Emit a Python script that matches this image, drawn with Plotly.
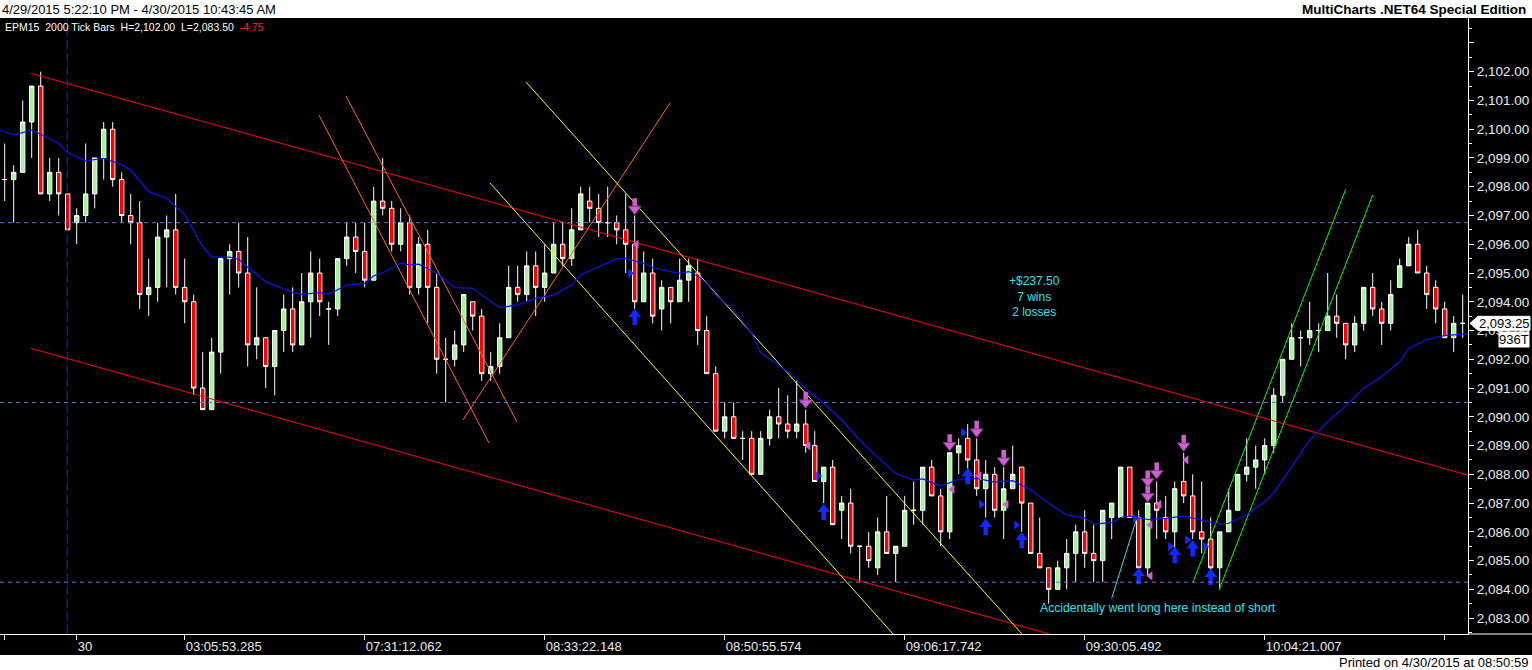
import plotly.graph_objects as go
import numpy as np

# ---------------- data ----------------
opens = [2098.25,2098.25,2098.5,2100.25,2101.5,2097.75,2098.5,2097.75,2096.75,2097.0,
         2097.75,2099.0,2100.0,2098.25,2097.0,2096.75,2094.25,2094.5,2096.25,2096.5,
         2094.5,2094.0,2091.0,2090.25,2092.25,2095.5,2095.75,2095.0,2092.5,2092.75,
         2091.75,2093.0,2093.75,2092.5,2094.0,2095.0,2093.75,2093.75,2095.5,2096.25,
         2095.75,2094.75,2097.5,2097.25,2096.0,2096.75,2094.5,2096.0,2094.5,2092.0,
         2092.0,2092.5,2094.0,2093.5,2091.5,2091.75,2092.75,2094.5,2094.25,2095.25,
         2094.5,2095.0,2096.0,2095.5,2096.5,2097.5,2097.25,2096.75,2096.75,2096.5,
         2096.0,2094.0,2095.0,2093.75,2094.5,2094.0,2094.75,2095.0,2093.0,2091.5,
         2089.5,2090.0,2089.25,2089.25,2088.0,2089.25,2090.0,2089.75,2089.5,2089.75,
         2089.0,2087.75,2088.25,2086.75,2087.0,2085.5,2085.5,2084.75,2086.0,2085.25,
         2085.5,2086.75,2086.75,2088.25,2087.25,2086.0,2088.75,2089.25,2088.5,2087.5,
         2088.0,2086.75,2087.5,2088.25,2087.0,2085.25,2084.75,2084.0,2084.75,2085.25,
         2086.0,2085.25,2085.0,2086.5,2086.5,2088.25,2086.5,2084.75,2087.0,2086.5,
         2086.0,2087.75,2087.25,2086.0,2085.75,2084.75,2086.0,2086.75,2088.0,2088.25,
         2088.5,2089.0,2090.75,2092.0,2092.75,2092.75,2093.0,2093.0,2093.5,2093.25,
         2092.5,2093.25,2094.5,2093.75,2093.25,2094.5,2095.25,2096.0,2095.0,2094.5,
         2093.75,2092.75,2093.25]
highs = [2099.5,2098.75,2101.0,2101.5,2102.0,2099.0,2099.0,2097.75,2097.25,2099.5,
         2099.0,2100.25,2100.25,2098.5,2097.75,2097.5,2095.5,2096.75,2097.0,2097.75,
         2095.5,2094.25,2092.25,2092.75,2095.5,2096.0,2096.75,2096.25,2094.5,2092.75,
         2093.0,2094.25,2094.5,2095.0,2095.75,2095.5,2094.0,2095.5,2096.75,2096.75,
         2096.75,2098.0,2099.0,2097.5,2097.25,2097.0,2096.25,2096.5,2095.0,2092.75,
         2093.0,2094.25,2094.0,2093.75,2092.25,2093.25,2095.25,2095.25,2095.75,2095.75,
         2096.0,2096.75,2096.75,2097.25,2098.0,2098.0,2097.75,2098.0,2097.0,2097.75,
         2097.0,2095.75,2095.5,2094.75,2094.5,2095.5,2095.5,2095.5,2093.5,2091.75,
         2090.5,2090.5,2089.5,2089.5,2089.5,2090.25,2091.0,2090.75,2091.25,2090.25,
         2089.5,2088.25,2088.5,2087.25,2087.5,2085.5,2086.0,2086.5,2087.25,2085.5,
         2087.25,2087.75,2088.25,2088.5,2087.5,2088.75,2089.25,2089.75,2089.25,2088.5,
         2088.25,2088.25,2089.0,2088.25,2087.0,2086.5,2084.75,2085.0,2085.75,2086.25,
         2086.75,2086.25,2086.75,2087.0,2088.25,2088.25,2086.75,2087.0,2087.75,2087.25,
         2087.75,2088.75,2088.0,2087.75,2086.5,2086.0,2087.5,2088.0,2089.25,2089.0,
         2089.25,2091.0,2092.0,2093.25,2093.0,2094.0,2093.25,2095.0,2094.25,2093.25,
         2093.5,2094.5,2095.0,2094.0,2094.75,2095.5,2096.25,2096.5,2095.25,2094.75,
         2094.0,2093.5,2094.25]
lows = [2097.5,2096.75,2098.5,2099.0,2097.75,2097.5,2097.0,2096.5,2096.0,2096.75,
        2097.25,2098.25,2098.0,2096.75,2096.0,2093.75,2093.5,2094.0,2094.5,2094.25,
        2093.25,2090.75,2090.25,2090.25,2091.5,2094.25,2094.5,2091.75,2092.0,2091.0,
        2090.75,2092.25,2092.25,2092.5,2092.75,2093.5,2092.5,2093.5,2095.25,2095.0,
        2094.5,2094.75,2097.0,2095.75,2095.75,2094.25,2094.25,2093.25,2091.5,2090.5,
        2091.75,2092.25,2093.0,2091.25,2091.25,2091.5,2092.75,2094.0,2094.0,2093.5,
        2094.0,2095.0,2095.25,2095.25,2096.5,2096.75,2096.25,2096.25,2096.0,2095.0,
        2093.75,2094.0,2093.25,2093.0,2093.25,2094.0,2094.0,2092.5,2091.5,2089.5,
        2089.25,2089.25,2088.5,2088.0,2088.0,2089.0,2089.25,2089.25,2089.25,2088.75,
        2087.75,2087.0,2086.25,2085.75,2085.25,2084.25,2084.75,2084.5,2085.25,2084.25,
        2085.5,2086.25,2086.25,2087.25,2085.5,2085.75,2088.0,2088.0,2087.25,2086.5,
        2086.5,2085.75,2087.5,2086.0,2085.25,2084.75,2083.5,2084.0,2084.0,2084.25,
        2084.75,2084.25,2084.25,2085.75,2086.5,2086.5,2084.75,2084.5,2085.75,2085.75,
        2085.0,2087.0,2085.75,2085.25,2084.5,2084.0,2086.0,2086.75,2087.75,2087.5,
        2088.0,2088.75,2090.5,2092.0,2091.75,2092.5,2092.25,2093.0,2092.75,2092.0,
        2092.25,2093.0,2093.5,2092.5,2093.0,2094.5,2095.25,2095.0,2093.75,2093.25,
        2092.75,2092.25,2092.75]
closes = [2098.25,2098.5,2100.25,2101.5,2097.75,2098.5,2097.75,2096.5,2097.0,2097.75,
          2099.0,2100.0,2098.25,2097.0,2096.75,2094.25,2094.5,2096.25,2096.5,2094.5,
          2094.0,2091.0,2090.25,2092.25,2095.5,2095.75,2095.0,2092.5,2092.75,2091.75,
          2093.0,2093.75,2092.5,2094.0,2095.0,2094.0,2093.75,2095.5,2096.25,2095.75,
          2094.75,2097.5,2097.25,2096.0,2096.75,2094.5,2096.0,2094.5,2092.0,2092.0,
          2092.5,2094.25,2093.5,2091.5,2091.75,2092.75,2094.5,2094.25,2095.25,2094.5,
          2095.0,2096.0,2095.5,2096.5,2097.75,2097.25,2096.75,2096.75,2096.5,2096.0,
          2094.0,2095.0,2093.5,2094.5,2094.0,2094.75,2095.25,2093.0,2091.5,2089.5,
          2090.0,2089.25,2089.25,2088.0,2089.25,2090.0,2089.75,2089.5,2089.75,2089.0,
          2087.75,2088.25,2086.25,2087.0,2085.5,2085.5,2085.0,2086.0,2085.25,2085.5,
          2086.75,2086.75,2088.25,2087.25,2086.0,2088.75,2089.0,2088.5,2087.5,2088.0,
          2086.75,2087.5,2088.0,2087.0,2085.25,2084.75,2084.0,2084.75,2085.25,2086.0,
          2085.25,2085.0,2086.75,2087.0,2088.25,2086.5,2084.75,2087.0,2086.75,2086.0,
          2087.5,2087.25,2086.0,2085.75,2084.75,2086.0,2086.75,2088.0,2088.25,2088.5,
          2089.0,2090.75,2092.0,2092.75,2092.75,2093.0,2093.0,2093.5,2093.25,2092.5,
          2093.25,2094.5,2093.75,2093.25,2094.25,2095.25,2096.0,2095.0,2094.25,2093.75,
          2092.75,2093.25,2093.25]
bars = list(range(len(closes)))

# moving average (sampled from the blue line)
ma_bar = [-0.5,1,3,6,7,9,11,13,14,16,18,20,22,23,25,26,27,29,32,33,35,36,38,40,41,42,44,45,46,48,
          50,52,53,55,57,59,61,63,64,66,68,69,71,72,74,75,76,77,78,79,81,83,84,87,89,91,93,95,97,99,
          101,102,104,106,108,110,112,114,116,118,120,121,123,124,125,127,129,131,133,135,136,138,
          140,141,143,145,147,149,151,153,155,156,158,160,162.6]
ma_val = [2099.97,2099.80,2099.97,2099.51,2099.18,2098.90,2098.99,2098.76,2098.58,2097.83,2097.60,
          2097.02,2095.92,2095.55,2095.55,2095.48,2095.20,2094.70,2094.32,2094.26,2094.32,2094.26,
          2094.58,2094.64,2094.90,2095.01,2095.34,2095.28,2095.31,2094.99,2094.49,2094.47,2094.24,
          2093.80,2093.89,2094.12,2094.24,2094.58,2094.93,2095.22,2095.48,2095.51,2095.33,2095.19,
          2095.05,2094.99,2095.05,2094.90,2094.64,2094.24,2093.71,2092.90,2092.23,2091.57,2090.99,
          2090.47,2089.89,2089.19,2088.59,2088.03,2087.80,2087.84,2087.59,2087.83,2087.86,2087.73,
          2087.78,2087.46,2086.99,2086.59,2086.47,2086.27,2086.32,2086.50,2086.55,2086.43,2086.47,
          2086.55,2086.41,2086.27,2086.30,2086.60,2087.05,2087.34,2088.27,2089.20,2089.83,2090.38,
          2090.99,2091.40,2091.92,2092.38,2092.69,2092.82,2092.89]

# drawn trend lines: (bar0, price0, bar1, price1)
red_lines = [(2.92, 2101.94, 162.6, 2087.97), (2.92, 2092.38, 116.0, 2082.45)]
orange_lines = [(34.92, 2100.49, 53.81, 2089.09), (37.92, 2101.16, 56.92, 2089.82),
                (50.92, 2089.89, 73.92, 2100.91)]
yellow_lines = [(53.92, 2098.13, 98.7, 2082.45), (57.92, 2101.64, 113.03, 2082.45)]
green_lines = [(132.0, 2084.23, 149.0, 2097.91), (134.92, 2083.98, 152.0, 2097.71)]
cyan_line = (123.0, 2083.69, 125.78, 2086.47)

h_levels = [2096.75, 2090.5, 2084.25]
day_break_bar = 6.95

# strategy signals
short_bar = [70, 89, 105, 108, 111, 127, 127, 128, 131]
short_price = [2097.31, 2090.58, 2089.10, 2089.57, 2088.56, 2087.84, 2087.32, 2088.12, 2089.08]
long_bar = [70, 91, 107, 109, 113, 126, 130, 132, 134]
long_price = [2093.48, 2086.70, 2087.94, 2086.18, 2085.72, 2084.47, 2085.20, 2085.43, 2084.44]
exit_r_bar = [69.5, 90.4, 106.5, 108.5, 112.4, 125.6, 129.5, 131.4, 133.4]
exit_r_price = [2094.99, 2087.94, 2089.46, 2086.96, 2086.24, 2086.47, 2085.49, 2085.72, 2085.49]
exit_l_bar = [70.2, 89.3, 105.3, 108.3, 111.3, 128.3, 127.3, 127.3, 131.3]
exit_l_price = [2096.00, 2088.99, 2087.48, 2087.95, 2086.96, 2086.96, 2086.24, 2084.47, 2088.50]

tick_bars = [0, 8, 20, 40, 60, 80, 100, 120, 140, 160]
tick_labels = ["", "30", "03:05:53.285", "07:31:12.062", "08:33:22.148", "08:50:55.574",
               "09:06:17.742", "09:30:05.492", "10:04:21.007", ""]
price_ticks = list(range(2083, 2104))

# ---------------- layout geometry ----------------
W, H = 1532, 670
ML, MR, MT, MB = 0, 64, 18, 36
PW, PH = W - ML - MR, H - MT - MB
x_range = [-0.522, 162.59]
y_top = 2103.867
px_per_pt = 28.76
y_range = [y_top - PH / px_per_pt, y_top]

def px_x(p):  # pixel -> paper x
    return (p - ML) / PW

def px_y(p):  # pixel -> paper y
    return (H - MB - p) / PH

FONT = "Liberation Sans, Arial, sans-serif"
MAG = "#CF5ECF"
BLU = "#1428FF"

fig = go.Figure()

def add_lines(lines, color, width=1):
    xs, ys = [], []
    for b0, p0, b1, p1 in lines:
        xs += [b0, b1, None]
        ys += [p0, p1, None]
    fig.add_trace(go.Scatter(x=xs, y=ys, mode="lines", line=dict(color=color, width=width),
                             hoverinfo="skip", showlegend=False))

add_lines(red_lines, "#FF0000")
add_lines(orange_lines, "#FF6424")
add_lines(yellow_lines, "#FFFF00")
add_lines(green_lines, "#00FF00")
add_lines([cyan_line], "#22E6F0")

fig.add_trace(go.Scatter(x=ma_bar, y=ma_val, mode="lines", line=dict(color="#0A14F0", width=1.2),
                         hoverinfo="skip", showlegend=False))

fig.add_trace(go.Candlestick(
    x=bars, open=opens, high=highs, low=lows, close=closes,
    increasing=dict(fillcolor="#A6F0A0", line=dict(color="white", width=1)),
    decreasing=dict(fillcolor="#FF0000", line=dict(color="white", width=1)),
    whiskerwidth=0, hoverinfo="skip", showlegend=False))

# signal arrows (head + stem)
hd = 2.5 / px_per_pt
st = 3.5 / px_per_pt
fig.add_trace(go.Scatter(x=long_bar, y=[p - st for p in long_price], mode="markers",
                         marker=dict(symbol="line-ns", size=7, line=dict(color=BLU, width=4.5)),
                         hoverinfo="skip", showlegend=False))
fig.add_trace(go.Scatter(x=long_bar, y=[p + hd for p in long_price], mode="markers",
                         marker=dict(symbol="triangle-up", size=11, color=BLU, line=dict(width=0)),
                         hoverinfo="skip", showlegend=False))
fig.add_trace(go.Scatter(x=short_bar, y=[p + st for p in short_price], mode="markers",
                         marker=dict(symbol="line-ns", size=7, line=dict(color=MAG, width=4.5)),
                         hoverinfo="skip", showlegend=False))
fig.add_trace(go.Scatter(x=short_bar, y=[p - hd for p in short_price], mode="markers",
                         marker=dict(symbol="triangle-down", size=11, color=MAG,
                                     line=dict(color="#8E3A8E", width=1)),
                         hoverinfo="skip", showlegend=False))
fig.add_trace(go.Scatter(x=exit_r_bar, y=exit_r_price, mode="markers",
                         marker=dict(symbol="triangle-right", size=8, color=BLU, line=dict(width=0)),
                         hoverinfo="skip", showlegend=False))
fig.add_trace(go.Scatter(x=exit_l_bar, y=exit_l_price, mode="markers",
                         marker=dict(symbol="triangle-left", size=8, color=MAG, line=dict(width=0)),
                         hoverinfo="skip", showlegend=False))

shapes = []
# black background for the whole chart window
shapes.append(dict(type="rect", xref="paper", yref="paper", x0=px_x(0), x1=px_x(W),
                   y0=px_y(655), y1=px_y(MT), fillcolor="black", line=dict(width=0), layer="below"))
for lv in h_levels:
    shapes.append(dict(type="line", xref="paper", yref="y", x0=0, x1=1, y0=lv, y1=lv,
                       line=dict(color="#6F6FE8", width=1, dash="4px,4px")))
shapes.append(dict(type="line", xref="x", yref="paper", x0=day_break_bar, x1=day_break_bar,
                   y0=0, y1=1, line=dict(color="#1020FF", width=1, dash="9px,4px")))
# bottom axis line continues under the price scale
shapes.append(dict(type="line", xref="paper", yref="paper", x0=1, x1=px_x(W), y0=0, y1=0,
                   line=dict(color="white", width=1)))
# last price tag
last = closes[-1]
hh = 7.0 / px_per_pt
shapes.append(dict(type="path", xref="paper", yref="y",
                   path=(f"M {px_x(PW + 2)},{last} L {px_x(PW + 10)},{last + hh} "
                         f"L {px_x(1530)},{last + hh} L {px_x(1530)},{last - hh} "
                         f"L {px_x(PW + 10)},{last - hh} Z"),
                   fillcolor="white", line=dict(color="white", width=1)))

ann = []
ann.append(dict(xref="paper", yref="paper", x=px_x(0), y=px_y(9), xanchor="left", yanchor="middle",
                text="4/29/2015 5:22:10 PM - 4/30/2015 10:43:45 AM", showarrow=False,
                font=dict(family=FONT, size=13, color="black")))
ann.append(dict(xref="paper", yref="paper", x=px_x(1528), y=px_y(9), xanchor="right", yanchor="middle",
                text="<b>MultiCharts .NET64 Special Edition</b>", showarrow=False,
                font=dict(family=FONT, size=13.5, color="black")))
ann.append(dict(xref="paper", yref="paper", x=px_x(3), y=px_y(27), xanchor="left", yanchor="middle",
                text=("EPM15\u00a0\u00a02000 Tick Bars\u00a0\u00a0H=2,102.00\u00a0\u00a0L=2,083.50\u00a0\u00a0"
                      "<span style='color:#FF2A2A'>-4.75</span>"),
                showarrow=False, font=dict(family=FONT, size=10.5, color="white")))
ann.append(dict(xref="paper", yref="paper", x=px_x(1530), y=px_y(662), xanchor="right", yanchor="middle",
                text="Printed on 4/30/2015 at 08:50:59", showarrow=False,
                font=dict(family=FONT, size=13, color="black")))
ann.append(dict(xref="x", yref="y", x=114.4, y=2094.2, xanchor="center", yanchor="middle",
                text="+$237.50<br>7 wins<br>2 losses", showarrow=False, align="center",
                font=dict(family=FONT, size=12, color="#2FE0EC")))
ann.append(dict(xref="x", yref="y", x=114.8, y=2083.35, xanchor="left", yanchor="middle",
                text="Accidentally went long here instead of short", showarrow=False,
                font=dict(family=FONT, size=12.2, color="#2FE0EC")))
ann.append(dict(xref="paper", yref="y", x=px_x(1504), y=last, xanchor="center", yanchor="middle",
                text=f"{last:,.2f}", showarrow=False, font=dict(family=FONT, size=13, color="black")))
ann.append(dict(xref="paper", yref="y", x=px_x(1530), y=last, yshift=-16, xanchor="right",
                yanchor="middle", text="936T", showarrow=False, bgcolor="white", borderpad=0,
                font=dict(family=FONT, size=13, color="black")))

fig.update_layout(
    width=W, height=H, margin=dict(l=ML, r=MR, t=MT, b=MB),
    paper_bgcolor="white", plot_bgcolor="black",
    showlegend=False, hovermode=False,
    shapes=shapes, annotations=ann,
    xaxis=dict(range=x_range, showgrid=False, zeroline=False, rangeslider=dict(visible=False),
               showline=True, linecolor="white", linewidth=1,
               tickmode="array", tickvals=tick_bars, ticktext=tick_labels,
               ticks="outside", ticklen=5, tickcolor="white", ticklabelposition="outside right",
               tickfont=dict(family=FONT, size=13, color="#EDEDED")),
    yaxis=dict(range=y_range, side="right", showgrid=False, zeroline=False,
               showline=True, linecolor="white", linewidth=1,
               tickmode="array", tickvals=price_ticks,
               ticktext=[f"{v:,.2f}" if v < 2103 else "" for v in price_ticks],
               ticks="outside", ticklen=5, tickcolor="white",
               minor=dict(tickvals=list(np.arange(2082.5, 2104.0, 1.0)), ticks="outside",
                          ticklen=3, tickcolor="white"),
               tickfont=dict(family=FONT, size=13.5, color="#EDEDED")),
)

fig.write_html("out.html", config={"displayModeBar": False},
               post_script="document.body.style.margin='0';document.body.style.padding='0';")
